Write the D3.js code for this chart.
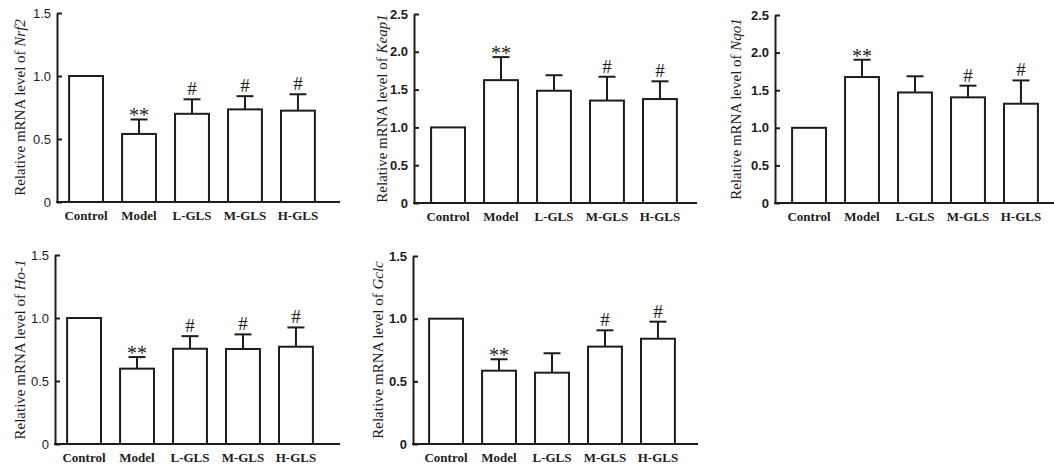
<!DOCTYPE html>
<html>
<head>
<meta charset="utf-8">
<script src="https://cdn.jsdelivr.net/npm/d3@7"></script>
<style>
  body { margin: 0; background: #fff; }
  svg { display: block; }
</style>
</head>
<body>
<svg id="chart" width="1054" height="468"></svg>
<script>
const categories = ["Control", "Model", "L-GLS", "M-GLS", "H-GLS"];

const nrf2Mean = [1.0, 0.54, 0.70, 0.735, 0.725];
const nrf2Sd = [0, 0.115, 0.115, 0.105, 0.13];
const nrf2Sig = ["", "**", "#", "#", "#"];

const keap1Mean = [1.0, 1.625, 1.485, 1.355, 1.375];
const keap1Sd = [0, 0.305, 0.205, 0.315, 0.235];
const keap1Sig = ["", "**", "", "#", "#"];

const nqo1Mean = [1.0, 1.675, 1.47, 1.405, 1.32];
const nqo1Sd = [0, 0.23, 0.215, 0.155, 0.31];
const nqo1Sig = ["", "**", "", "#", "#"];

const ho1Mean = [1.0, 0.598, 0.756, 0.754, 0.772];
const ho1Sd = [0, 0.092, 0.10, 0.116, 0.153];
const ho1Sig = ["", "**", "#", "#", "#"];

const gclcMean = [1.0, 0.585, 0.569, 0.777, 0.84];
const gclcSd = [0, 0.091, 0.155, 0.13, 0.136];
const gclcSig = ["", "**", "", "#", "#"];

const ticksLow = [0, 0.5, 1.0, 1.5];
const ticksHigh = [0, 0.5, 1.0, 1.5, 2.0, 2.5];

// panel layout (pixels)
const panels = [
  { gene: "Nrf2", mean: nrf2Mean, sd: nrf2Sd, sig: nrf2Sig, max: 1.5, ticks: ticksLow,
    ax: 57, y0: 202, yTop: 13, right: 340, off: 1.5, labelX: 20, boldTicks: false },
  { gene: "Keap1", mean: keap1Mean, sd: keap1Sd, sig: keap1Sig, max: 2.5, ticks: ticksHigh,
    ax: 414, y0: 203, yTop: 14, right: 697, off: 6.5, labelX: 382, boldTicks: true },
  { gene: "Nqo1", mean: nqo1Mean, sd: nqo1Sd, sig: nqo1Sig, max: 2.5, ticks: ticksHigh,
    ax: 775, y0: 203, yTop: 15, right: 1054, off: 6.5, labelX: 736, boldTicks: true },
  { gene: "Ho-1", mean: ho1Mean, sd: ho1Sd, sig: ho1Sig, max: 1.5, ticks: ticksLow,
    ax: 55, y0: 444, yTop: 255, right: 340, off: 1.5, labelX: 20, boldTicks: false },
  { gene: "Gclc", mean: gclcMean, sd: gclcSd, sig: gclcSig, max: 1.5, ticks: ticksLow,
    ax: 413, y0: 444, yTop: 256, right: 698, off: 5.5, labelX: 378, boldTicks: true }
];

const ink = "#1c1c1c";
const serif = "'Liberation Serif', 'Times New Roman', serif";
const svg = d3.select("#chart");

panels.forEach(function (p) {
  const g = svg.append("g");
  const data = categories.map(function (c, i) {
    return { cat: c, mean: p.mean[i], sd: p.sd[i], sig: p.sig[i] };
  });

  const x = d3.scaleBand()
    .domain(categories)
    .range([p.ax + p.off, p.ax + p.off + 267])
    .paddingInner(0.36)
    .paddingOuter(0.2);

  const y = d3.scaleLinear().domain([0, p.max]).range([p.y0, p.yTop]);

  // y axis, ticks pointing inward
  const yAxis = g.append("g")
    .attr("transform", "translate(" + p.ax + ",0)")
    .call(d3.axisLeft(y)
      .tickValues(p.ticks)
      .tickSizeInner(-5)
      .tickSizeOuter(0)
      .tickPadding(6)
      .tickFormat(function (d) { return d === 0 ? "0" : d3.format(".1f")(d); }));
  yAxis.select(".domain").attr("stroke", ink).attr("stroke-width", 2);
  yAxis.selectAll(".tick line").attr("stroke", ink).attr("stroke-width", 2);
  yAxis.selectAll(".tick text")
    .attr("fill", ink)
    .style("font-family", "'Liberation Sans', Arial, sans-serif")
    .style("font-size", "13px")
    .style("font-weight", p.boldTicks ? "bold" : "normal");

  // bars
  g.selectAll(".bar")
    .data(data)
    .enter()
    .append("rect")
    .attr("class", "bar")
    .attr("x", function (d) { return x(d.cat); })
    .attr("y", function (d) { return y(d.mean); })
    .attr("width", x.bandwidth())
    .attr("height", function (d) { return y(0) - y(d.mean); })
    .attr("fill", "#fff")
    .attr("stroke", ink)
    .attr("stroke-width", 2);

  // error bars (upper only)
  const err = data.filter(function (d) { return d.sd > 0; });
  g.selectAll(".err")
    .data(err)
    .enter()
    .append("line")
    .attr("x1", function (d) { return x(d.cat) + x.bandwidth() / 2; })
    .attr("x2", function (d) { return x(d.cat) + x.bandwidth() / 2; })
    .attr("y1", function (d) { return y(d.mean); })
    .attr("y2", function (d) { return y(d.mean + d.sd); })
    .attr("stroke", ink)
    .attr("stroke-width", 2);
  g.selectAll(".cap")
    .data(err)
    .enter()
    .append("line")
    .attr("x1", function (d) { return x(d.cat) + x.bandwidth() / 2 - 8.5; })
    .attr("x2", function (d) { return x(d.cat) + x.bandwidth() / 2 + 8.5; })
    .attr("y1", function (d) { return y(d.mean + d.sd); })
    .attr("y2", function (d) { return y(d.mean + d.sd); })
    .attr("stroke", ink)
    .attr("stroke-width", 2);

  // significance marks
  g.selectAll(".sig")
    .data(data.filter(function (d) { return d.sig !== ""; }))
    .enter()
    .append("text")
    .attr("x", function (d) { return x(d.cat) + x.bandwidth() / 2; })
    .attr("y", function (d) { return y(d.mean + d.sd) + (d.sig === "**" ? 3 : -4); })
    .attr("text-anchor", "middle")
    .attr("fill", ink)
    .style("font-family", serif)
    .style("font-size", d => d.sig === "**" ? "20px" : "19px")
    .text(function (d) { return d.sig; });

  // x baseline
  g.append("line")
    .attr("x1", p.ax - 1)
    .attr("x2", p.right)
    .attr("y1", y(0))
    .attr("y2", y(0))
    .attr("stroke", ink)
    .attr("stroke-width", 2);

  // category labels
  g.selectAll(".cat")
    .data(categories)
    .enter()
    .append("text")
    .attr("x", function (d) { return x(d) + x.bandwidth() / 2; })
    .attr("y", y(0) + 18)
    .attr("text-anchor", "middle")
    .attr("fill", ink)
    .style("font-family", serif)
    .style("font-size", "13px")
    .style("font-weight", "bold")
    .text(function (d) { return d; });

  // y label
  const lab = g.append("text")
    .attr("transform", "translate(" + p.labelX + "," + ((p.y0 + p.yTop) / 2) + ") rotate(-90)")
    .attr("text-anchor", "middle")
    .attr("dy", "0.35em")
    .attr("fill", ink)
    .style("font-family", serif)
    .style("font-size", "15px");
  lab.append("tspan").text("Relative mRNA level of ");
  lab.append("tspan").style("font-style", "italic").text(p.gene);
});
</script>
</body>
</html>
